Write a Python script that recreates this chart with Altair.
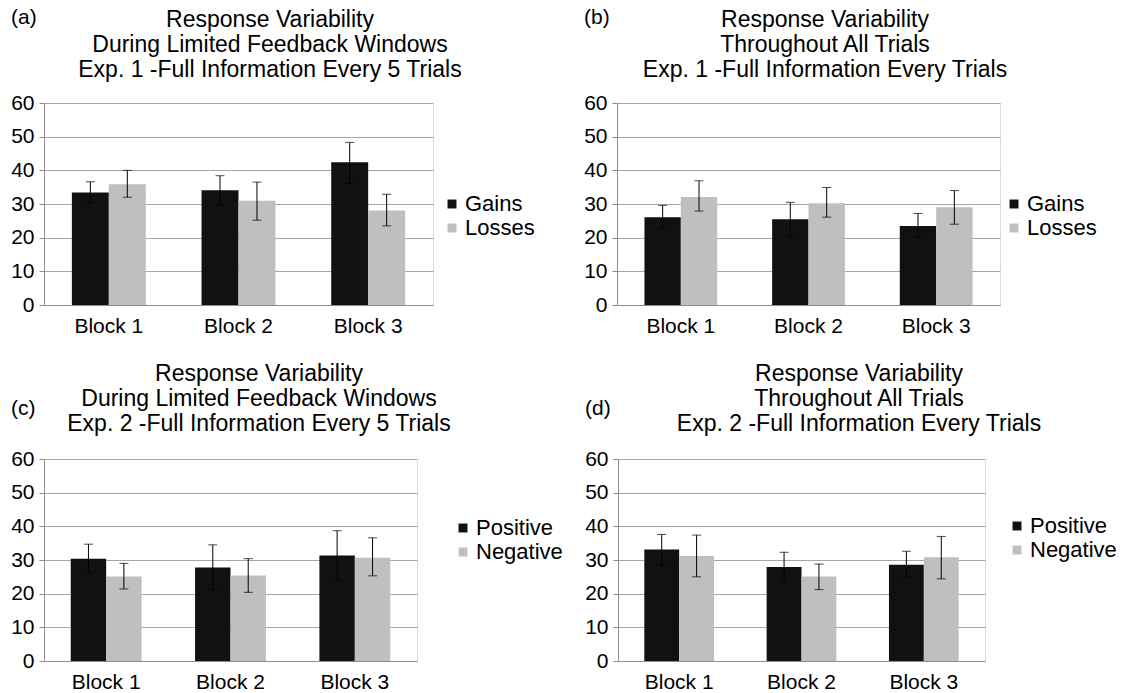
import altair as alt
import pandas as pd

FONT = "Liberation Sans"

blocks = ["Block 1", "Block 2", "Block 3"]

# Panel (a)
a_names = ["Gains", "Losses"]
a_gains = [33.4, 34.1, 42.4]
a_gains_lo = [30.3, 29.8, 36.1]
a_gains_hi = [36.6, 38.4, 48.3]
a_losses = [35.9, 31.0, 28.1]
a_losses_lo = [32.0, 25.2, 23.5]
a_losses_hi = [40.0, 36.5, 32.9]

# Panel (b)
b_names = ["Gains", "Losses"]
b_gains = [26.1, 25.5, 23.5]
b_gains_lo = [22.8, 20.3, 20.1]
b_gains_hi = [29.6, 30.5, 27.2]
b_losses = [32.1, 30.2, 29.0]
b_losses_lo = [27.9, 26.1, 24.0]
b_losses_hi = [36.9, 34.9, 34.0]

# Panel (c)
c_names = ["Positive", "Negative"]
c_pos = [30.4, 27.8, 31.3]
c_pos_lo = [26.2, 21.2, 23.9]
c_pos_hi = [34.7, 34.5, 38.7]
c_neg = [25.1, 25.4, 30.7]
c_neg_lo = [21.4, 20.4, 25.3]
c_neg_hi = [29.0, 30.4, 36.6]

# Panel (d)
d_names = ["Positive", "Negative"]
d_pos = [33.1, 27.9, 28.6]
d_pos_lo = [28.4, 23.7, 25.0]
d_pos_hi = [37.6, 32.3, 32.6]
d_neg = [31.2, 25.1, 30.8]
d_neg_lo = [25.0, 21.2, 24.4]
d_neg_hi = [37.4, 28.8, 37.0]

titles = {
    "a": ["Response Variability", "During Limited Feedback Windows", "Exp. 1 -Full Information Every 5 Trials"],
    "b": ["Response Variability", "Throughout All Trials", "Exp. 1 -Full Information Every Trials"],
    "c": ["Response Variability", "During Limited Feedback Windows", "Exp. 2 -Full Information Every 5 Trials"],
    "d": ["Response Variability", "Throughout All Trials", "Exp. 2 -Full Information Every Trials"],
}
y_ticks = [0, 10, 20, 30, 40, 50, 60]
colors = ["#111111", "#bfbfbf"]


def make_df(names, s1, s1lo, s1hi, s2, s2lo, s2hi):
    rows = []
    for name, v, lo, hi in [(names[0], s1, s1lo, s1hi), (names[1], s2, s2lo, s2hi)]:
        for i, b in enumerate(blocks):
            rows.append({"block": b, "series": name, "value": v[i], "lo": lo[i], "hi": hi[i]})
    return pd.DataFrame(rows)


def y_enc(field):
    return alt.Y(field, title=None, scale=alt.Scale(domain=[0, 60], nice=False),
                 axis=alt.Axis(values=y_ticks, labelOverlap=False, labelFontSize=21, labelFont=FONT,
                               labelColor="black", gridColor="#a6a6a6", domainColor="#8c8c8c",
                               tickColor="#8c8c8c", tickSize=5, labelPadding=5))


def panel(label, title_lines, names, df, width, legend_x, legend_y,
          title_x, title_y, label_x, label_y):
    base = alt.Chart(df).encode(
        x=alt.X("block:N", sort=blocks, title=None,
                scale=alt.Scale(paddingInner=0.43, paddingOuter=0.215),
                axis=alt.Axis(labelAngle=0, labelFontSize=21, labelFont=FONT, labelColor="black",
                              ticks=False, domainColor="#8c8c8c", labelPadding=10)),
        xOffset=alt.XOffset("series:N", sort=names,
                            scale=alt.Scale(paddingInner=0, paddingOuter=0)),
    )
    bars = base.mark_bar().encode(
        y=y_enc("value:Q"),
        color=alt.Color("series:N", sort=names,
                        scale=alt.Scale(domain=names, range=colors),
                        legend=alt.Legend(title=None, orient="none", legendX=legend_x, legendY=legend_y,
                                          symbolType="square", symbolSize=80, symbolStrokeWidth=0,
                                          labelFontSize=22, labelFont=FONT, labelColor="black",
                                          labelOffset=2, rowPadding=2, padding=0)),
    )
    rules = base.mark_rule(color="black", strokeWidth=1).encode(y=y_enc("lo:Q"), y2="hi:Q")
    cap_lo = base.mark_tick(color="black", thickness=1, size=9).encode(y=y_enc("lo:Q"))
    cap_hi = base.mark_tick(color="black", thickness=1, size=9).encode(y=y_enc("hi:Q"))
    lab = alt.Chart(pd.DataFrame({"t": [label]})).mark_text(
        align="left", baseline="middle", fontSize=21, font=FONT, color="black"
    ).encode(text="t:N", x=alt.value(label_x), y=alt.value(label_y))
    ttl = alt.Chart(pd.DataFrame({"t": ["\n".join(title_lines)]})).mark_text(
        align="center", baseline="middle", fontSize=23, font=FONT, color="black",
        lineBreak="\n", lineHeight=25
    ).encode(text="t:N", x=alt.value(title_x), y=alt.value(title_y))
    return alt.layer(bars, rules, cap_lo, cap_hi, lab, ttl).properties(width=width, height=202)


pa = panel("(a)", titles["a"], a_names,
           make_df(a_names, a_gains, a_gains_lo, a_gains_hi, a_losses, a_losses_lo, a_losses_hi),
           389, 397, 90, 226, -83, -33, -85)
pb = panel("(b)", titles["b"], b_names,
           make_df(b_names, b_gains, b_gains_lo, b_gains_hi, b_losses, b_losses_lo, b_losses_hi),
           383, 386, 90, 208, -83, -33, -85)
pc = panel("(c)", titles["c"], c_names,
           make_df(c_names, c_pos, c_pos_lo, c_pos_hi, c_neg, c_neg_lo, c_neg_hi),
           373, 408, 58, 215, -85, -33, -50)
pd_ = panel("(d)", titles["d"], d_names,
            make_df(d_names, d_pos, d_pos_lo, d_pos_hi, d_neg, d_neg_lo, d_neg_hi),
            367, 388, 56, 241, -85, -33, -50)

res = dict(color="independent", x="independent", y="independent", xOffset="independent")
top = alt.hconcat(pa, pb, spacing=47).resolve_scale(**res)
bottom = alt.hconcat(pc, pd_, spacing=20).resolve_scale(**res)
chart = alt.vconcat(top, bottom, spacing=25).resolve_scale(**res).properties(
    padding={"left": 2, "top": -2, "right": 0, "bottom": 0}
).configure_view(strokeWidth=0).configure(background="white")

chart.save("out.html", embed_options={"renderer": "svg", "actions": False})
